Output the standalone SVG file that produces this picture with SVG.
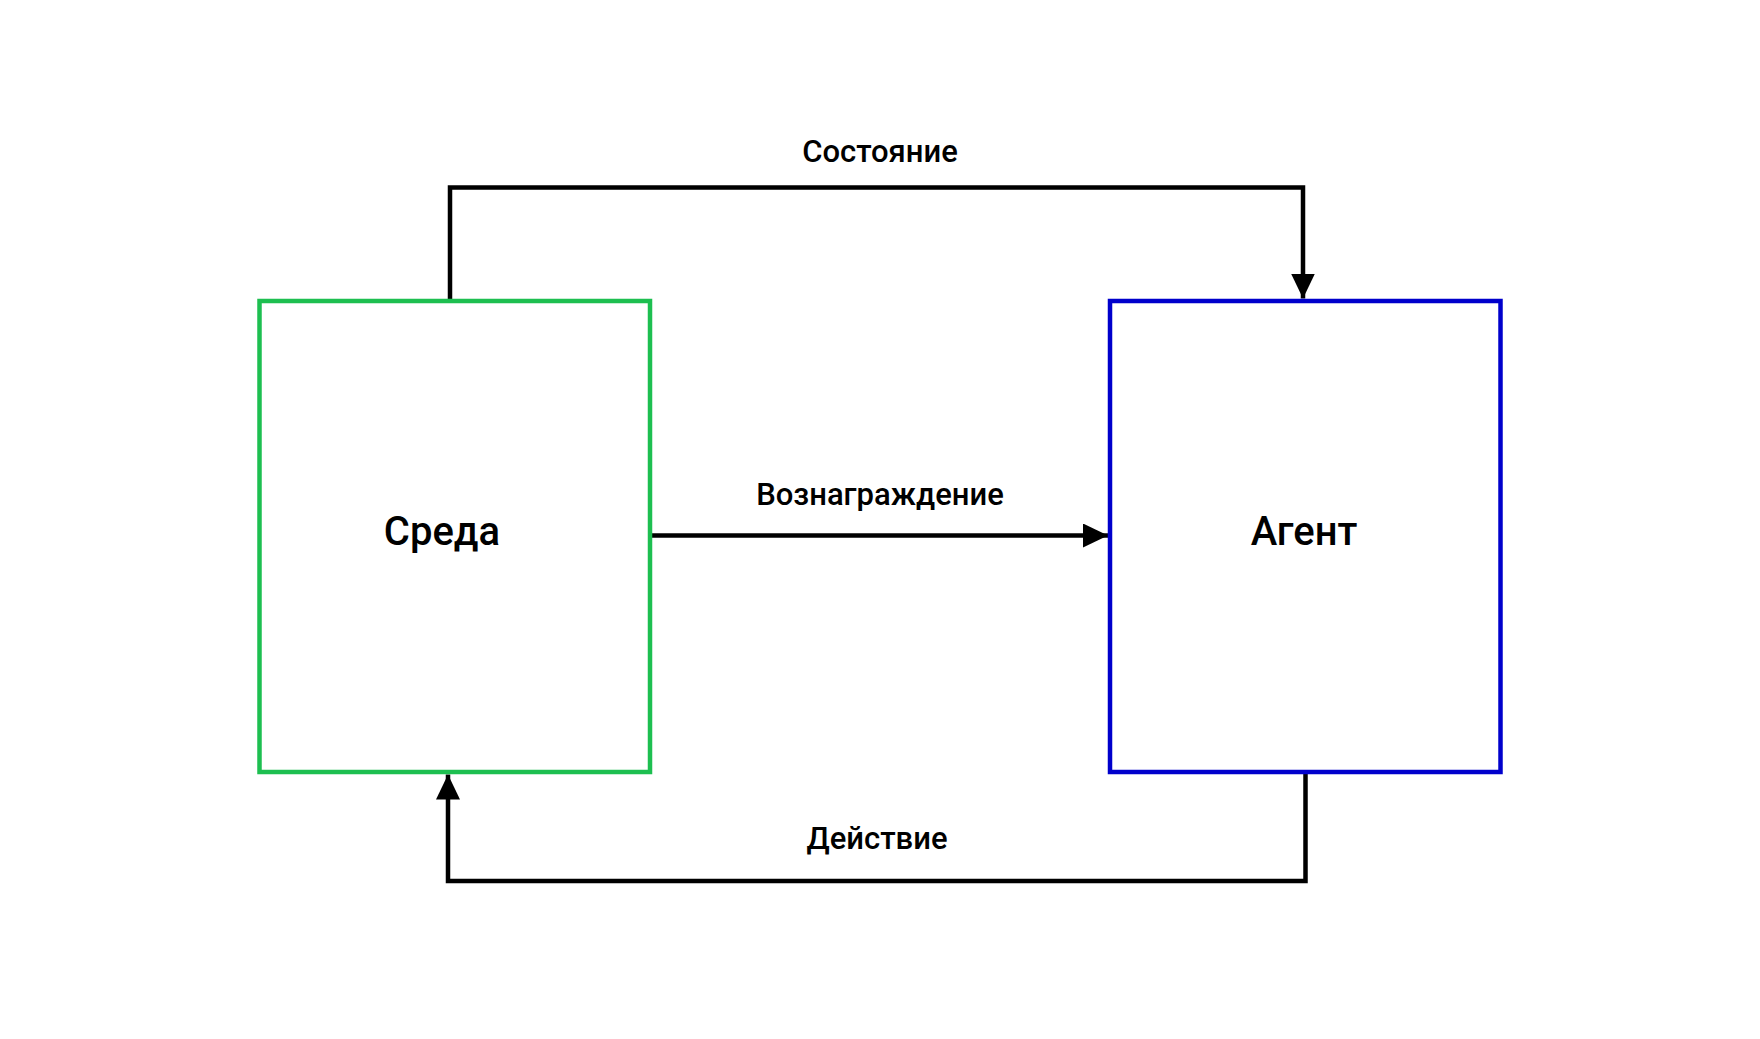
<svg xmlns="http://www.w3.org/2000/svg" width="1760" height="1039" viewBox="0 0 1760 1039">
<style>
.n{fill:none;stroke-width:4.5}
.c{fill:none;stroke:#000;stroke-width:4.5}
text{font-family:Roboto,"Liberation Sans",sans-serif;font-weight:500;fill:#000;text-anchor:middle}
.l{font-size:31px}
.t{font-size:40px}
</style>
<defs><marker id="a" markerWidth="25" markerHeight="24" refX="25" refY="12" orient="auto" markerUnits="userSpaceOnUse" viewBox="0 0 25 24"><path d="M0,0L25,12L0,24z" fill="#000"/></marker></defs>
<rect width="1760" height="1039" fill="#fff"/>
<g id="connectors">
<path class="c" d="M450,301V187.5H1303V298.5" marker-end="url(#a)"/>
<path class="c" d="M652,535.5H1108" marker-end="url(#a)"/>
<path class="c" d="M1305.5,772V881H448V774.5" marker-end="url(#a)"/>
<text class="l" x="880" y="162">Состояние</text>
<text class="l" x="880" y="505">Вознаграждение</text>
<text class="l" x="877" y="849">Действие</text>
</g>
<g id="sreda"><rect class="n" stroke="#1dbf50" x="259.5" y="301" width="390.5" height="471"/><text class="t" x="442" y="545">Среда</text></g>
<g id="agent"><rect class="n" stroke="#0000cc" x="1110" y="301" width="390.5" height="471"/><text class="t" x="1304" y="545">Агент</text></g>
</svg>
